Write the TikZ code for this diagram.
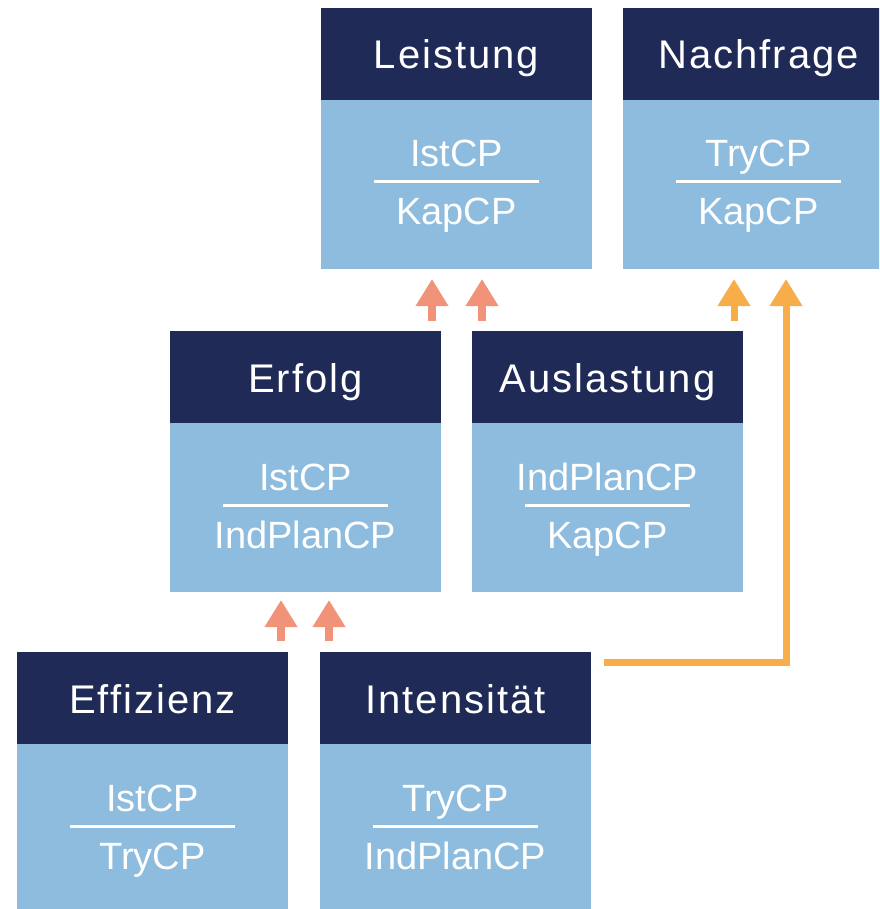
\documentclass[tikz,border=0pt]{standalone}
\usepackage{fontspec}
\setmainfont{Liberation Sans}
\usetikzlibrary{calc,arrows.meta}
\definecolor{navy}{HTML}{1F2A56}
\definecolor{lblue}{HTML}{8DBCDE}
\definecolor{salmon}{HTML}{F09379}
\definecolor{orng}{HTML}{F7AE4A}
\tikzset{
  hdr/.style={fill=navy, draw=none, minimum width=271pt, minimum height=92pt, inner sep=0pt, outer sep=0pt},
  bdy/.style={fill=lblue, draw=none, minimum width=271pt, minimum height=169pt, inner sep=0pt, outer sep=0pt},
  txt/.style={text=white, font=\fontsize{38}{42}\selectfont, inner sep=0pt, anchor=base},
  htxt/.style={text=white, font=\fontsize{40}{44}\selectfont\addfontfeatures{LetterSpace=5}, inner sep=0pt, anchor=base},
  fracline/.style={draw=white, line width=3pt},
  sarrow/.style={draw=salmon, line width=8pt, -{Triangle[width=31pt,length=27pt]}},
  oarrow/.style={draw=orng, line width=7pt, -{Triangle[width=31pt,length=27pt]}},
}
\newcommand\cpbox[6]{%
  \node[hdr, anchor=north west] (#1) at (#2,#3) {};
  \node[bdy, anchor=north] (#1b) at (#1.south) {};
  \node[htxt] (#1t) at ($(#1.north)+(0,61)$) {#4};
  \node[txt] (#1n) at ($(#1b.north)+(0,67)$) {#5};
  \draw[fracline] ($(#1b.north)+(-82.5,82)$) -- ($(#1b.north)+(82.5,82)$);
  \node[txt] (#1d) at ($(#1b.north)+(0,125)$) {#6};
}
\begin{document}
\begin{tikzpicture}[x=1pt,y=-1pt]
\useasboundingbox (0,0) rectangle (879,909);
\clip (0,0) rectangle (879,909);
\fill[white] (0,0) rectangle (879,909);
\cpbox{lei}{321}{8}{Leistung}{IstCP}{KapCP}
\cpbox{nac}{623}{8}{Nachfrage}{TryCP}{KapCP}
\cpbox{erf}{170}{331}{Erfolg}{IstCP}{IndPlanCP}
\cpbox{aus}{472}{331}{Auslastung}{IndPlanCP}{KapCP}
\cpbox{eff}{17}{652}{Effizienz}{IstCP}{TryCP}
\cpbox{int}{320}{652}{Intensität}{TryCP}{IndPlanCP}
% arrows to Leistung
\draw[sarrow] ($(leib.south)+(-24.5,52)$) -- ($(leib.south)+(-24.5,10)$);
\draw[sarrow] ($(leib.south)+(25.5,52)$) -- ($(leib.south)+(25.5,10)$);
% arrows to Erfolg
\draw[sarrow] ($(erfb.south)+(-24.5,49)$) -- ($(erfb.south)+(-24.5,8)$);
\draw[sarrow] ($(erfb.south)+(23.5,49)$) -- ($(erfb.south)+(23.5,8)$);
% arrows to Nachfrage
\draw[oarrow] ($(nacb.south)+(-24.5,52)$) -- ($(nacb.south)+(-24.5,10)$);
\draw[oarrow] ($(int.north east)+(13,10)$) -| ($(nacb.south)+(27.5,10)$);
\end{tikzpicture}
\end{document}
